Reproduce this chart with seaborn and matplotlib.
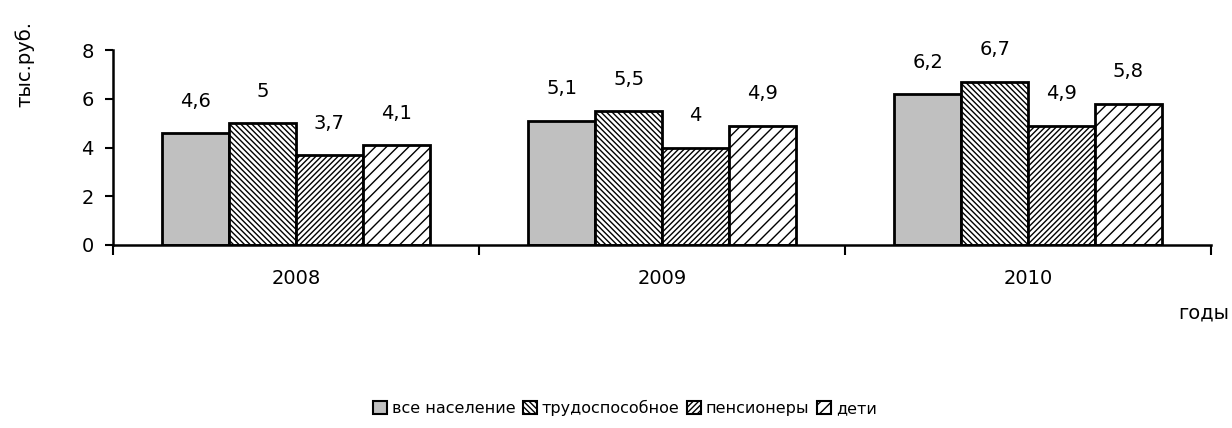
import matplotlib
matplotlib.use("Agg")
import matplotlib.pyplot as plt
from matplotlib.patches import Patch
import seaborn as sns
import pandas as pd

years = ["2008", "2009", "2010"]
groups = ["все население", "трудоспособное", "пенсионеры", "дети"]
v_all = [4.6, 5.1, 6.2]
v_work = [5.0, 5.5, 6.7]
v_pens = [3.7, 4.0, 4.9]
v_kids = [4.1, 4.9, 5.8]
labels_all = ["4,6", "5,1", "6,2"]
labels_work = ["5", "5,5", "6,7"]
labels_pens = ["3,7", "4", "4,9"]
labels_kids = ["4,1", "4,9", "5,8"]

rows = []
for g, vals, labs in zip(groups, [v_all, v_work, v_pens, v_kids],
                         [labels_all, labels_work, labels_pens, labels_kids]):
    for y, v, l in zip(years, vals, labs):
        rows.append({"year": y, "group": g, "value": v, "label": l})
df = pd.DataFrame(rows)

sns.set_style("white")
plt.rcParams["font.family"] = ["DejaVu Sans"]
plt.rcParams["text.color"] = "black"
plt.rcParams["axes.labelcolor"] = "black"
plt.rcParams["xtick.color"] = "black"
plt.rcParams["ytick.color"] = "black"
plt.rcParams["hatch.linewidth"] = 1.0
FS = 14

fig = plt.figure(figsize=(12.32, 4.28), dpi=100)
ax = fig.add_axes([113/1232, 1-245/428, (1211-113)/1232, (245-50)/428])

facecolors = ["#c0c0c0", "white", "white", "white"]
hatches = ["", "\\\\\\\\\\\\", "//////", "///"]
sns.barplot(data=df, x="year", y="value", hue="group", hue_order=groups,
            palette=facecolors, width=0.73, gap=0, ax=ax, legend=False,
            edgecolor="black", linewidth=2.0, saturation=1)

for container, h, g in zip(ax.containers, hatches, groups):
    sub = df[df.group == g]
    for bar, lab in zip(container, sub["label"]):
        bar.set_hatch(h)
        bar.set_edgecolor("black")
        ax.annotate(lab, (bar.get_x() + bar.get_width()/2, bar.get_height()),
                    xytext=(0, 16), textcoords="offset points",
                    ha="center", va="bottom", fontsize=FS)

ax.set_ylim(0, 8)
ax.set_yticks([0, 2, 4, 6, 8])
ax.set_xlim(-0.5, 2.5)
ax.set_xticks([-0.5, 0.5, 1.5, 2.5], minor=False)
ax.set_xticklabels([])
ax.set_xticks([0, 1, 2], minor=True)
ax.set_xticklabels(years, minor=True)
ax.tick_params(axis="x", which="major", length=7, width=1.5, direction="out", bottom=True)
ax.tick_params(axis="x", which="minor", length=0, pad=17, labelsize=FS)
ax.tick_params(axis="y", length=6, width=1.5, direction="out", left=True, labelsize=FS, pad=8)
ax.set_xlabel("")
ax.set_ylabel("")
for s in ["top", "right"]:
    ax.spines[s].set_visible(False)
for s in ["left", "bottom"]:
    ax.spines[s].set_linewidth(1.8)
    ax.spines[s].set_color("black")

fig.text(25/1232, 1-64/428, "тыс.руб.", rotation=90, ha="center", va="center", fontsize=FS)
fig.text(1229/1232, 1-313/428, "годы", ha="right", va="center", fontsize=FS)

handles = [Patch(facecolor=fc, edgecolor="black", hatch=h, linewidth=1.5)
           for fc, h in zip(facecolors, hatches)]
fig.legend(handles, groups, loc="center", bbox_to_anchor=(625/1232, 1-408/428), ncol=4,
           frameon=False, fontsize=11.5, handlelength=0.85, handleheight=0.85,
           handletextpad=0.3, columnspacing=0.5)

fig.savefig("out.png", dpi=100)
